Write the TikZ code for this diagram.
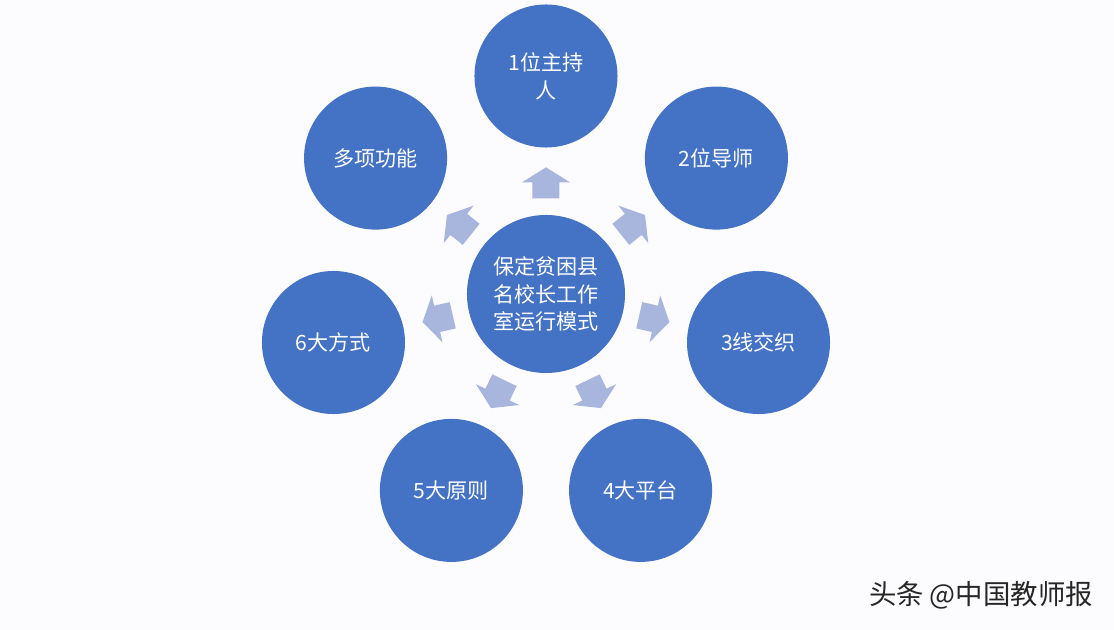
\documentclass[tikz,border=0pt]{standalone}
\usepackage{fontspec}
\newfontfamily\cjk{Noto Sans CJK SC}
\usetikzlibrary{calc}
\definecolor{ballblue}{RGB}{68,114,196}
\definecolor{arrowblue}{RGB}{168,182,221}
\definecolor{paper}{RGB}{252,252,254}
\tikzset{
  ball/.style={circle,fill=ballblue,text=white,minimum size=3.575cm,inner sep=0pt,align=center,font=\cjk\fontsize{15}{20}\selectfont},
  hub/.style={ball,minimum size=3.95cm,font=\cjk\fontsize{15}{19.6}\selectfont},
  pointer/.style={fill=arrowblue}
}
\begin{document}
\begin{tikzpicture}[x=0.025cm,y=0.025cm]
  \fill[paper] (-546,-336) rectangle (568,294);
  \node[hub] (hub) at (0,0) {保定贫困县\\名校长工作\\室运行模式};
  \foreach \i/\lbl in {1/{1位主持\\人},2/2位导师,3/3线交织,4/4大平台,5/5大原则,6/6大方式,7/多项功能}
    \node[ball] (n\i) at ({90-(\i-1)*360/7}:218) {\lbl};
  % block arrows from the hub out to each circle
  \foreach \i in {1,...,7}
    \fill[pointer,shift={($(hub)!0.51!(n\i)$)},rotate={90-(\i-1)*360/7}]
      (-15.5,-13.5) -- (0.5,-13.5) -- (0.5,-24) -- (15.5,0) -- (0.5,24) -- (0.5,13.5) -- (-15.5,13.5) -- cycle;
  \node[font=\cjk\fontsize{19.5}{19.5}\selectfont,text=black!85,anchor=east] (credit) at (552,-301) {头条 @中国教师报};
\end{tikzpicture}
\end{document}
